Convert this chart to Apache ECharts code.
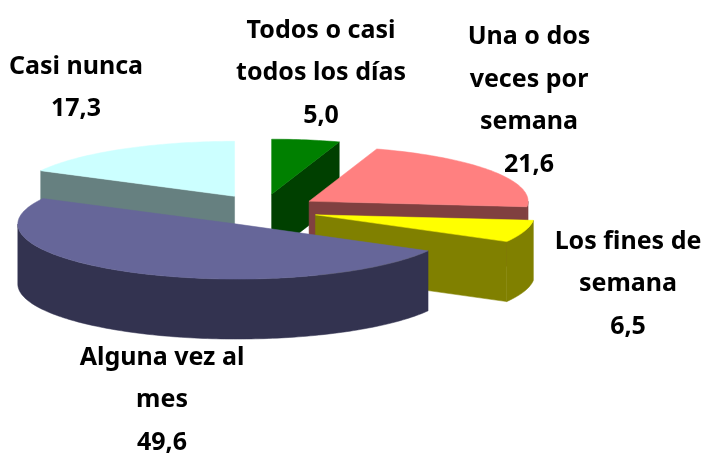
<!DOCTYPE html>
<html>
<head>
<meta charset="utf-8">
<style>html,body{margin:0;padding:0;background:#fff}#c{width:707px;height:454px}</style>
<script src="https://cdn.jsdelivr.net/npm/echarts@6/dist/echarts.min.js"></script>
</head>
<body>
<div id="c"></div>
<script>
// Data
const categories = ['Todos o casi\ntodos los días', 'Una o dos\nveces por\nsemana', 'Los fines de\nsemana', 'Alguna vez al\nmes', 'Casi nunca'];
const values = [5.0, 21.6, 6.5, 49.6, 17.3];
const valueLabels = ['5,0', '21,6', '6,5', '49,6', '17,3'];

// Styles / layout
const topColors = ['#008000', '#FF8080', '#FFFF00', '#666699', '#CCFFFF'];
const sideColors = ['#004000', '#804040', '#808000', '#333350', '#668080'];
const drawOrder = [4, 0, 1, 2, 3];
const labelCenters = [[321, 73], [529, 101], [628, 284], [162, 400], [76, 88]];
const pie = { cx: 263, cy: 210, rx: 219, ry: 55, ex: 55, ey: 16, depth: 60 };

const total = values.reduce((a, b) => a + b, 0);
const starts = [];
values.reduce((acc, v, i) => { starts[i] = acc; return acc + v; }, 0);
const toAngle = v => v / total * Math.PI * 2;

function renderItem(params, api) {
  const i = api.value(0);
  const a0 = toAngle(starts[i]);
  const a1 = toAngle(starts[i] + api.value(1));
  const mid = (a0 + a1) / 2;
  const ax = pie.cx + pie.ex * Math.sin(mid);
  const ay = pie.cy - pie.ey * Math.cos(mid);
  const pt = a => [ax + pie.rx * Math.sin(a), ay - pie.ry * Math.cos(a)];
  const down = p => [p[0], p[1] + pie.depth];
  const arc = (s, e) => {
    const n = Math.max(2, Math.ceil((e - s) / 0.02));
    const out = [];
    for (let k = 0; k <= n; k++) out.push(pt(s + (e - s) * k / n));
    return out;
  };
  const children = [];
  const poly = (points, fill) => children.push({
    type: 'polygon', shape: { points }, silent: true,
    style: { fill, stroke: fill, lineWidth: 0.5 }
  });
  const apex = [ax, ay];
  // radial wall at the start edge, drawn when it faces the viewer
  if (Math.sin(a0) < 0) {
    const p = pt(a0);
    poly([apex, p, down(p), down(apex)], sideColors[i]);
  }
  // radial wall at the end edge, drawn when it faces the viewer
  if (Math.sin(a1) > 0) {
    const p = pt(a1);
    poly([apex, p, down(p), down(apex)], sideColors[i]);
  }
  // rim wall: only the front half of the ellipse is visible
  const s = Math.max(a0, Math.PI / 2);
  const e = Math.min(a1, Math.PI * 1.5);
  if (e > s) {
    const rim = arc(s, e);
    poly(rim.concat(rim.slice().reverse().map(down)), sideColors[i]);
  }
  // top face
  poly([apex].concat(arc(a0, a1)), topColors[i]);
  // label
  children.push({
    type: 'text', x: labelCenters[i][0], y: labelCenters[i][1], silent: true, z2: 50,
    style: {
      text: categories[i] + '\n' + valueLabels[i],
      fontFamily: '"Noto Sans"', fontWeight: 'bold', fontSize: 25, lineHeight: 42.5,
      fill: '#000', align: 'center', verticalAlign: 'middle'
    }
  });
  return { type: 'group', children };
}

const chart = echarts.init(document.getElementById('c'), null, { renderer: 'canvas' });
chart.setOption({
  animation: false,
  backgroundColor: '#fff',
  series: [{
    type: 'custom',
    coordinateSystem: 'none',
    renderItem,
    data: drawOrder.map(i => [i, values[i]])
  }]
});
</script>
</body>
</html>
